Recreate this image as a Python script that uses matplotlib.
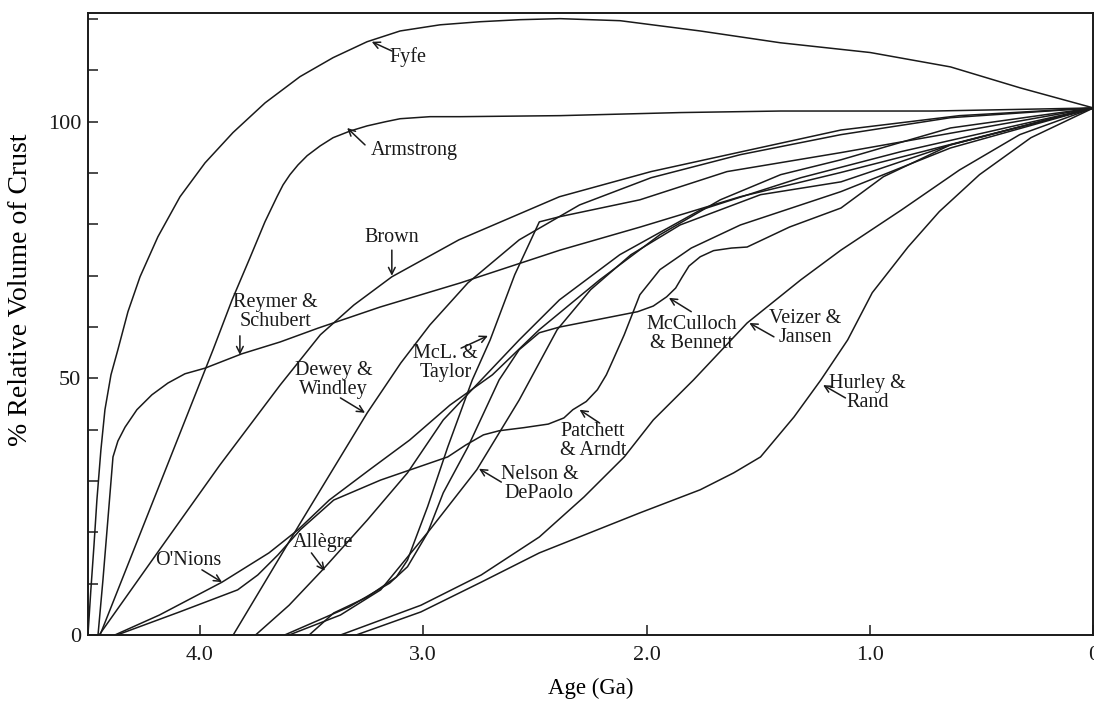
import matplotlib
matplotlib.use("Agg")
import matplotlib.pyplot as plt

plt.rcParams['font.family'] = ['Liberation Serif', 'DejaVu Serif']

# crustal growth models: age (Ga) and % relative volume of crust
fyfe_age = [4.50, 4.487, 4.473, 4.46, 4.442, 4.424, 4.397, 4.366, 4.321, 4.267, 4.187, 4.088, 3.976, 3.851,
            3.707, 3.551, 3.403, 3.251, 3.103, 2.924, 2.745, 2.566, 2.387, 2.118, 1.76, 1.401, 0.999, 0.64, 0.327, 0.0]
fyfe_vol = [0, 8.8, 17.5, 26.3, 36.1, 43.9, 50.7, 55.6, 63.0, 69.8, 77.6, 85.4, 92.0, 97.9,
            103.7, 108.8, 112.5, 115.6, 117.7, 118.9, 119.5, 119.9, 120.1, 119.7, 117.7, 115.4, 113.5, 110.7, 106.6, 102.7]

armstrong_age = [4.446, 3.94, 3.855, 3.775, 3.708, 3.654, 3.627, 3.596, 3.56, 3.519, 3.461, 3.403, 3.327,
                 3.251, 3.17, 3.103, 2.969, 2.834, 2.387, 1.849, 1.401, 0.716, 0.0]
armstrong_vol = [0, 55.6, 65.3, 73.5, 80.5, 85.4, 87.7, 89.7, 91.6, 93.4, 95.3, 96.9, 98.2,
                 99.2, 100.0, 100.6, 101.0, 101.0, 101.2, 101.8, 102.1, 102.1, 102.7]

reymer_age = [4.455, 4.433, 4.411, 4.388, 4.366, 4.334, 4.281, 4.214, 4.142, 4.066, 3.976, 3.811, 3.64,
              3.47, 3.193, 2.834, 2.387, 2.028, 1.581, 1.133, 0.0]
reymer_vol = [0, 10.7, 22.4, 34.7, 37.8, 40.5, 43.9, 46.8, 49.1, 50.9, 52.0, 54.8, 57.1,
              59.8, 63.9, 68.6, 75.0, 79.5, 85.4, 90.1, 102.7]

brown_age = [4.45, 4.18, 3.91, 3.64, 3.46, 3.31, 3.14, 2.84, 2.39, 1.98, 1.54, 1.13, 0.60, 0.0]
brown_vol = [0, 16.6, 33.1, 48.7, 58.5, 64.3, 69.8, 77.0, 85.4, 90.3, 94.5, 98.4, 101.2, 102.7]

dewey_age = [3.85, 3.55, 3.25, 3.10, 2.97, 2.80, 2.57, 2.30, 1.98, 1.58, 1.13, 0.64, 0.0]
dewey_vol = [0, 21.8, 43.3, 53.0, 60.4, 68.6, 77.0, 83.8, 89.1, 93.6, 97.5, 100.8, 102.7]

onions_age = [4.38, 4.18, 3.90, 3.69, 3.56, 3.42, 3.24, 3.06, 2.88, 2.69, 2.48, 2.21, 1.94, 1.67, 1.40, 1.13, 0.64, 0.0]
onions_vol = [0, 3.9, 10.3, 16.0, 20.5, 26.3, 32.2, 38.0, 44.8, 50.7, 59.5, 69.2, 78.0, 84.8, 89.7, 92.6, 98.8, 102.7]

patchett_age = [4.37, 4.09, 3.83, 3.74, 3.65, 3.55, 3.40, 3.19, 2.89, 2.81, 2.73, 2.66, 2.55, 2.44, 2.37, 2.33,
                2.27, 2.22, 2.18, 2.15, 2.10, 2.03, 1.94, 1.80, 1.58, 1.13, 0.64, 0.0]
patchett_vol = [0, 4.5, 8.8, 11.7, 15.6, 20.5, 26.3, 30.2, 34.7, 37.0, 39.0, 39.8, 40.4, 41.1, 42.3, 43.9,
                45.5, 47.8, 50.7, 53.6, 58.5, 66.3, 71.2, 75.4, 79.9, 86.4, 94.9, 102.7]

allegre_age = [3.75, 3.60, 3.45, 3.25, 3.07, 2.91, 2.74, 2.57, 2.39, 2.12, 1.76, 1.31, 0.86, 0.0]
allegre_vol = [0, 5.8, 12.7, 22.4, 31.6, 41.9, 49.7, 57.5, 65.3, 74.1, 82.8, 89.1, 94.2, 102.7]

mclennan_age = [3.51, 3.40, 3.25, 3.12, 3.07, 2.98, 2.89, 2.78, 2.70, 2.59, 2.48, 2.39, 2.03, 1.64, 1.13, 0.0]
mclennan_vol = [0, 4.3, 7.4, 11.3, 14.6, 25.0, 36.6, 49.7, 57.5, 70.2, 80.5, 81.5, 84.8, 90.3, 94.0, 102.7]

mcculloch_age = [3.62, 3.33, 3.15, 3.07, 2.98, 2.91, 2.80, 2.66, 2.57, 2.48, 2.39, 2.04, 1.97, 1.91, 1.87,
                 1.84, 1.81, 1.76, 1.70, 1.62, 1.55, 1.36, 1.13, 0.94, 0.64, 0.0]
mcculloch_vol = [0, 5.5, 10.1, 13.3, 19.9, 27.7, 36.6, 49.7, 55.6, 58.9, 60.0, 63.0, 64.1, 65.9, 67.6,
                 69.8, 71.9, 73.7, 74.9, 75.4, 75.6, 79.5, 83.2, 89.3, 95.5, 102.7]

nelson_age = [3.60, 3.37, 3.19, 2.97, 2.76, 2.57, 2.40, 2.25, 2.07, 1.85, 1.49, 1.13, 0.64, 0.0]
nelson_vol = [0, 3.9, 8.8, 20.5, 32.2, 45.8, 59.5, 67.3, 74.1, 79.9, 85.8, 88.3, 95.5, 102.7]

veizer_age = [3.37, 3.01, 2.74, 2.48, 2.28, 2.10, 1.97, 1.79, 1.55, 1.31, 1.13, 0.86, 0.60, 0.33, 0.0]
veizer_vol = [0, 5.8, 11.7, 19.1, 26.9, 34.7, 41.9, 49.7, 60.8, 69.2, 75.0, 82.8, 90.6, 97.5, 102.7]

hurley_age = [3.30, 3.01, 2.74, 2.48, 2.03, 1.76, 1.61, 1.49, 1.34, 1.22, 1.10, 0.99, 0.83, 0.69, 0.51, 0.28, 0.0]
hurley_vol = [0, 4.5, 10.3, 16.0, 23.8, 28.3, 31.6, 34.7, 42.5, 49.7, 57.5, 66.7, 75.6, 82.5, 89.7, 96.9, 102.7]

curves = [
    (fyfe_age, fyfe_vol), (armstrong_age, armstrong_vol), (reymer_age, reymer_vol),
    (brown_age, brown_vol), (dewey_age, dewey_vol), (onions_age, onions_vol),
    (patchett_age, patchett_vol), (allegre_age, allegre_vol), (mclennan_age, mclennan_vol),
    (mcculloch_age, mcculloch_vol), (nelson_age, nelson_vol), (veizer_age, veizer_vol),
    (hurley_age, hurley_vol),
]

# label text, text centre, arrow tail, arrow tip
labels = [
    ("Fyfe", (3.07, 112.7), (3.14, 113.8), (3.23, 115.6)),
    ("Armstrong", (3.04, 94.5), (3.26, 95.5), (3.34, 98.8)),
    ("Brown", (3.14, 77.4), (3.14, 75.0), (3.14, 70.0)),
    ("Reymer &\nSchubert", (3.66, 63.0), (3.82, 58.3), (3.82, 54.6)),
    ("Dewey &\nWindley", (3.40, 49.7), (3.37, 46.2), (3.26, 43.3)),
    ("McL. &\nTaylor", (2.90, 53.0), (2.83, 55.9), (2.71, 58.3)),
    ("O'Nions", (4.05, 14.6), (3.99, 12.7), (3.90, 10.3)),
    ("Allègre", (3.45, 18.1), (3.50, 16.0), (3.44, 12.5)),
    ("Nelson &\nDePaolo", (2.48, 29.4), (2.65, 29.8), (2.75, 32.4)),
    ("Patchett\n& Arndt", (2.24, 37.8), (2.21, 41.3), (2.30, 43.9)),
    ("McCulloch\n& Bennett", (1.80, 58.7), (1.80, 63.0), (1.90, 65.7)),
    ("Veizer &\nJansen", (1.29, 59.8), (1.43, 58.1), (1.54, 60.8)),
    ("Hurley &\nRand", (1.01, 47.2), (1.11, 46.2), (1.21, 48.7)),
]

fig = plt.figure(figsize=(10.94, 7.03), dpi=100)
ax = fig.add_axes([0.0804, 0.0967, 0.9191, 0.8848])

for age, vol in curves:
    ax.plot(age, vol, color='#1a1a1a', lw=1.1, solid_joinstyle='round')

for text, pos, tail, tip in labels:
    ax.text(pos[0], pos[1], text, ha='center', va='center', fontsize=14.5,
            linespacing=1.0, color='#1a1a1a')
    ax.annotate('', xy=tip, xytext=tail,
                arrowprops=dict(arrowstyle='->', lw=1.1, color='#1a1a1a',
                                shrinkA=0, shrinkB=0, mutation_scale=12))

ax.set_xlim(4.5, 0)
ax.set_ylim(0, 121.2)
ax.set_xticks([4, 3, 2, 1, 0])
ax.set_xticklabels(['4.0', '3.0', '2.0', '1.0', '0'])
ax.set_yticks([0, 50, 100])
ax.set_yticks([10, 20, 30, 40, 60, 70, 80, 90, 110, 120], minor=True)
ax.tick_params(which='both', direction='in', length=7, width=1.1,
               labelsize=16, colors='#1a1a1a')
ax.tick_params(axis='x', pad=8)
ax.tick_params(axis='y', pad=5)
for s in ax.spines.values():
    s.set_linewidth(1.4)
    s.set_color('#1a1a1a')

ax.set_xlabel("Age (Ga)", fontsize=16.5)
ax.set_ylabel("% Relative Volume of Crust", fontsize=20)
ax.xaxis.set_label_coords(0.50, -0.069)
ax.yaxis.set_label_coords(-0.055, 0.555)

fig.savefig("out.png", dpi=100)
